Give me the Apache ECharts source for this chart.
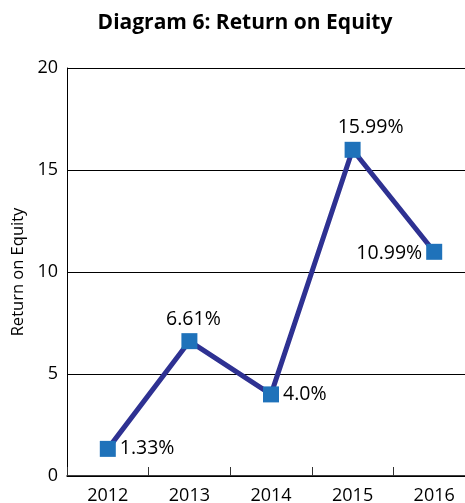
<!DOCTYPE html>
<html>
<head>
<meta charset="utf-8">
<script src="https://cdn.jsdelivr.net/npm/echarts@6/dist/echarts.min.js"></script>
<style>
html, body { margin: 0; padding: 0; background: #fff; }
#chart { width: 465px; height: 503px; }
</style>
</head>
<body>
<div id="chart"></div>
<script>
var years = ['2012', '2013', '2014', '2015', '2016'];
var roeValues = [1.33, 6.61, 4.0, 15.99, 10.99];
var roeLabels = ['1.33%', '6.61%', '4.0%', '15.99%', '10.99%'];
var labelSides = ['right', 'top', 'right', 'top', 'left'];
var labelShift = [[0, 0], [4, 0], [0, 0], [18, 0], [0, 2]];

var FONT = '"Open Sans", "DejaVu Sans", sans-serif';

var chart = echarts.init(document.getElementById('chart'));

var points = [];
for (var i = 0; i < roeValues.length; i++) {
	points.push({
		value: roeValues[i],
		label: {
			position: labelSides[i],
			offset: labelShift[i],
			formatter: roeLabels[i]
		}
	});
}

chart.setOption({
	animation: false,
	title: {
		text: 'Diagram 6: Return on Equity',
		left: 240,
		textAlign: 'center',
		top: 8,
		textStyle: { fontFamily: FONT, fontSize: 21, fontWeight: 'bold', color: '#000' }
	},
	grid: {
		left: 67,
		right: -10,
		top: 68,
		bottom: 27,
		outerBoundsMode: 'none',
		containLabel: false
	},
	xAxis: {
		type: 'category',
		data: years,
		boundaryGap: true,
		axisLine: { lineStyle: { color: '#000', width: 1.5 } },
		axisTick: { show: true, inside: true, length: 9, lineStyle: { color: '#333', width: 1 } },
		axisLabel: { fontFamily: FONT, fontSize: 18, color: '#000', margin: 11 }
	},
	yAxis: {
		type: 'value',
		min: 0,
		max: 20,
		interval: 5,
		name: 'Return on Equity',
		nameLocation: 'middle',
		nameGap: 38,
		nameTextStyle: { fontFamily: FONT, fontSize: 16.5, color: '#000' },
		axisLine: { show: true, lineStyle: { color: '#000', width: 1 } },
		axisTick: { show: false },
		splitLine: { lineStyle: { color: '#000', width: 1 } },
		axisLabel: { fontFamily: FONT, fontSize: 18, color: '#000', margin: 9 }
	},
	series: [{
		type: 'line',
		data: points,
		symbol: 'rect',
		symbolSize: 16,
		lineStyle: { color: '#2E3192', width: 5 },
		itemStyle: { color: '#1F72BA' },
		label: {
			show: true,
			fontFamily: FONT,
			fontSize: 19.5,
			color: '#000',
			distance: 4
		}
	}]
});
</script>
</body>
</html>
